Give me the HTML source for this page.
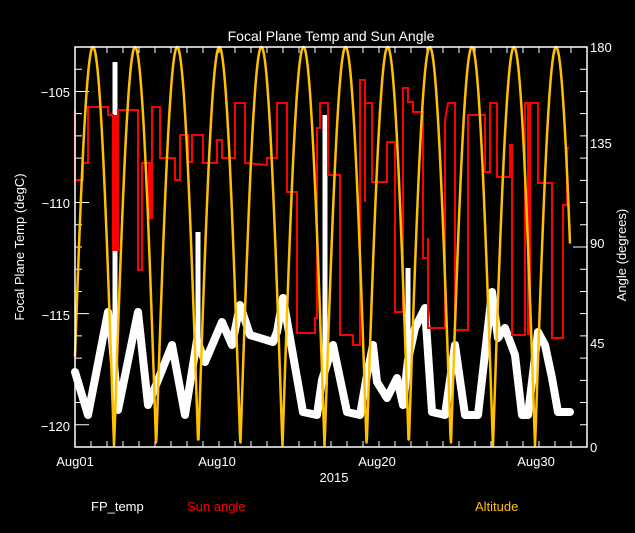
<!DOCTYPE html>
<html><head><meta charset="utf-8"><style>
html,body{margin:0;padding:0;background:#000;}
svg{display:block;font-family:"Liberation Sans",sans-serif;}
</style></head><body>
<svg id="s" width="635" height="533" viewBox="0 0 635 533" xmlns="http://www.w3.org/2000/svg">
<rect width="635" height="533" fill="#000"/>
<text x="331" y="41" fill="#fff" font-size="14" text-anchor="middle">Focal Plane Temp and Sun Angle</text>
<g id="ticks" stroke="#fff" stroke-width="1"></g>
<g fill="#fff" font-size="13" text-anchor="end">
<text x="70" y="97">−105</text>
<text x="70" y="208">−110</text>
<text x="70" y="320">−115</text>
<text x="70" y="431">−120</text>
</g>
<g fill="#fff" font-size="13">
<text x="590" y="52">180</text>
<text x="590" y="148">135</text>
<text x="590" y="248">90</text>
<text x="590" y="348">45</text>
<text x="590" y="452">0</text>
</g>
<text transform="translate(24,247) rotate(-90)" fill="#fff" font-size="13" text-anchor="middle">Focal Plane Temp (degC)</text>
<text transform="translate(626,255) rotate(-90)" fill="#fff" font-size="13" text-anchor="middle">Angle (degrees)</text>
<g fill="#fff" font-size="13" text-anchor="middle">
<text x="75" y="466">Aug01</text>
<text x="217" y="466">Aug10</text>
<text x="377" y="466">Aug20</text>
<text x="536" y="466">Aug30</text>
<text x="334" y="482">2015</text>
</g>
<text x="91" y="511" fill="#fff" font-size="13">FP_temp</text>
<text x="187" y="511" fill="#f00" font-size="13">Sun angle</text>
<text x="475" y="511" fill="#ffc000" font-size="13">Altitude</text>

<path fill="none" stroke="#fff" stroke-width="8" stroke-linejoin="round" stroke-linecap="round" d="M75,372 L88,415 L108,312 L112,340 L118,410 L138,312 L148,405 L172,345 L185,415 L197,340 L205,362 L222,322 L232,345 L240,305 L250,335 L273,342 L277,332 L283,298 L290,338 L303,412 L317,415 L322,380 L333,345 L347,412 L360,415 L367,375 L373,345 L377,382 L387,398 L397,378 L403,405 L408,360 L415,328 L425,308 L432,412 L445,415 L455,345 L465,415 L478,415 L492,292 L498,338 L505,328 L515,355 L522,415 L528,415 L538,332 L545,345 L552,378 L558,412 L570,412"/>
<g stroke="#fff" stroke-width="5" fill="none">
<path d="M115,62 L115,362"/>
<path d="M198,232 L198,340"/>
<path d="M325,115 L325,378"/>
<path d="M408,268 L408,378"/>
</g>
<path fill="none" stroke="#f00" stroke-width="2" d="M75,110 L75,180 L83,180 L83,163 L88,163 L88,107 L108,107 L108,115 L113,115 L113,250 L118,250 L118,110 L138,110 L138,270 L142,270 L142,163 L150,163 L150,218 L152,218 L152,107 L160,107 L160,158 L175,158 L175,180 L180,180 L180,135 L188,135 L188,162 L192,162 L192,135 L203,135 L203,163 L217,163 L217,140 L222,140 L222,158 L235,158 L235,103 L245,103 L245,163 L267,165 L267,158 L277,158 L277,103 L287,103 L287,192 L297,192 L297,333 L315,333 L315,318 L317,318 L317,128 L320,128 L320,103 L328,103 L328,175 L340,175 L340,335 L353,335 L353,345 L360,345 L360,80 L365,80 L365,202 L365,103 L372,103 L372,182 L387,182 L387,142 L395,142 L395,312 L403,312 L403,88 L408,88 L408,102 L413,102 L413,112 L423,112 L423,258 L428,258 L428,238 L428,328 L445,328 L445,120 L448,103 L455,103 L455,330 L468,330 L468,115 L485,115 L485,172 L490,172 L490,103 L497,103 L497,177 L510,177 L510,145 L512,145 L512,335 L525,335 L525,103 L538,103 L538,183 L552,183 L552,338 L563,338 L563,205 L567,205 L567,148 L569,148"/>
<g stroke="#f00" stroke-width="4"><path d="M115,115 L115,250"/><path d="M529,103 L529,335"/><path d="M150,163 L150,218"/></g>
<path id="alt" fill="none" stroke="#ffc000" stroke-width="2.5" stroke-linejoin="round"/>
<rect x="75" y="47" width="512" height="400" fill="none" stroke="#fff" stroke-width="1.5"/>
<script>
var d="";for(var x=75;x<=570;x+=0.5){var y=447-400*Math.abs(Math.cos(Math.PI*(x-93)/42.1));d+=(x==75?"M":"L")+x+","+y.toFixed(1);}
document.getElementById("alt").setAttribute("d",d);
var t="";
for(var i=0;i<=32;i++){var x=75+i*16;t+="M"+x+",447 L"+x+",441 M"+x+",47 L"+x+",53 ";}
for(var v=-121;v<=-103;v++){var y=447-(v+121)*400/18;var L=(v%5==0)?14:7;t+="M75,"+y+" L"+(75+L)+","+y+" ";}
for(var a=0;a<=180;a+=10){var y=447-a*400/180;var L=(a%45==0)?14:7;t+="M587,"+y+" L"+(587-L)+","+y+" ";}
var p=document.createElementNS("http://www.w3.org/2000/svg","path");p.setAttribute("d",t);document.getElementById("ticks").appendChild(p);
</script>
</svg>
</body></html>
